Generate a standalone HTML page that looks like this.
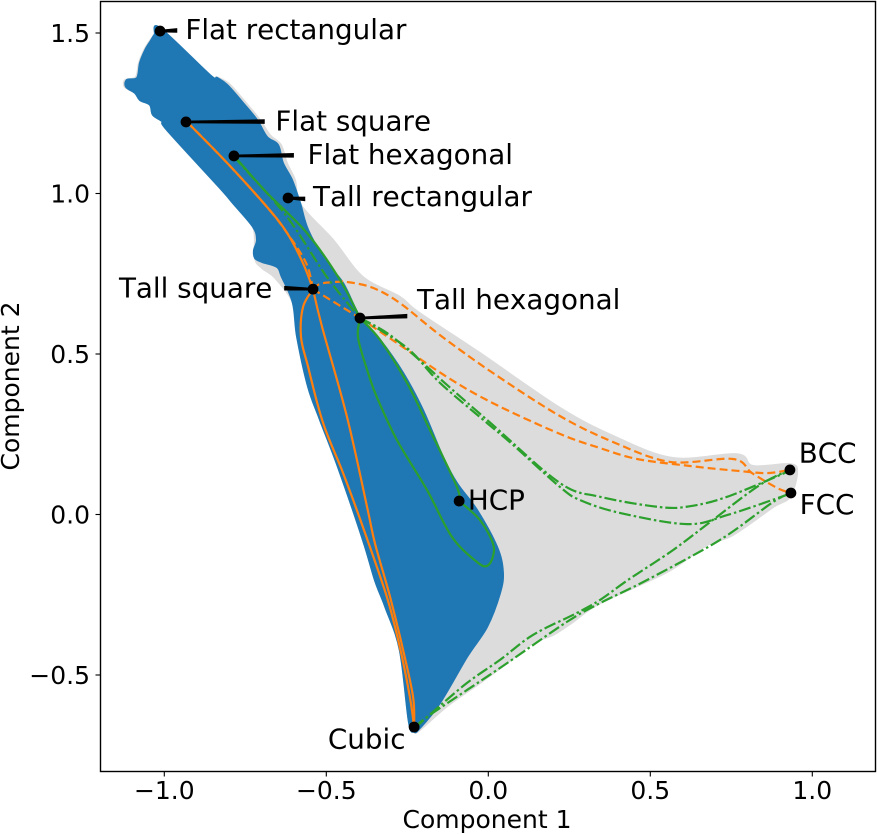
<!DOCTYPE html>
<html>
<head>
<meta charset="utf-8">
<style>
html,body{margin:0;padding:0;background:#fff;}
svg{display:block;font-family:"DejaVu Sans","Liberation Sans",sans-serif;font-kerning:none;}
</style>
</head>
<body>
<svg id="chart" width="877" height="834" viewBox="0 0 877 834" xmlns="http://www.w3.org/2000/svg"></svg>
<script>
var xTicks = [-1.0, -0.5, 0.0, 0.5, 1.0];
var yTicks = [-0.5, 0.0, 0.5, 1.0, 1.5];
var xTickLabels = ['\u22121.0', '\u22120.5', '0.0', '0.5', '1.0'];
var yTickLabels = ['\u22120.5', '0.0', '0.5', '1.0', '1.5'];
var xAxisTitle = 'Component 1';
var yAxisTitle = 'Component 2';

var allStructuresRegion = [[-1.03,1.495],[-1.013,1.515],[-0.859,1.369],[-0.837,1.362],[-0.8,1.341],[-0.748,1.282],[-0.705,1.229],[-0.674,1.182],[-0.64,1.151],[-0.622,1.095],[-0.597,1.042],[-0.578,0.964],[-0.479,0.855],[-0.387,0.74],[-0.273,0.678],[-0.217,0.631],[-0.026,0.503],[0.221,0.332],[0.385,0.245],[0.569,0.176],[0.768,0.188],[0.817,0.151],[0.931,0.157],[0.953,0.132],[0.931,0.055],[0.879,0.023],[0.755,-0.064],[0.675,-0.095],[0.552,-0.179],[0.345,-0.276],[0.261,-0.335],[0.2,-0.375],[0.138,-0.4],[0.058,-0.463],[-0.026,-0.525],[-0.127,-0.597],[-0.211,-0.671],[-0.229,-0.677],[-0.245,-0.646],[-0.273,-0.422],[-0.318,-0.288],[-0.35,-0.204],[-0.387,-0.079],[-0.464,0.148],[-0.519,0.294],[-0.556,0.397],[-0.59,0.553],[-0.603,0.659],[-0.658,0.737],[-0.698,0.768],[-0.72,0.799],[-0.726,0.896],[-0.788,0.97],[-0.828,1.017],[-0.992,1.198],[-1.004,1.223],[-1.035,1.245],[-1.044,1.276],[-1.075,1.291],[-1.09,1.313],[-1.122,1.332],[-1.12,1.354],[-1.088,1.362],[-1.078,1.407],[-1.062,1.447],[-1.045,1.475]];

var stableStructuresRegion = [[-1.013,1.515],[-0.859,1.369],[-0.837,1.36],[-0.806,1.338],[-0.757,1.282],[-0.714,1.229],[-0.683,1.176],[-0.649,1.151],[-0.634,1.095],[-0.606,1.042],[-0.581,0.97],[-0.556,0.886],[-0.498,0.783],[-0.448,0.721],[-0.396,0.615],[-0.334,0.544],[-0.263,0.441],[-0.202,0.326],[-0.14,0.179],[-0.097,0.098],[-0.035,0.014],[0.027,-0.101],[0.045,-0.179],[0.036,-0.245],[-0.004,-0.35],[-0.066,-0.444],[-0.149,-0.587],[-0.211,-0.665],[-0.229,-0.677],[-0.245,-0.646],[-0.273,-0.422],[-0.318,-0.288],[-0.35,-0.204],[-0.387,-0.079],[-0.464,0.148],[-0.519,0.294],[-0.556,0.397],[-0.59,0.553],[-0.603,0.659],[-0.637,0.74],[-0.652,0.771],[-0.698,0.787],[-0.72,0.799],[-0.723,0.824],[-0.714,0.855],[-0.726,0.896],[-0.788,0.97],[-0.828,1.017],[-0.992,1.198],[-1.004,1.223],[-1.035,1.245],[-1.044,1.276],[-1.075,1.291],[-1.09,1.313],[-1.118,1.332],[-1.115,1.354],[-1.084,1.36],[-1.075,1.407],[-1.059,1.447],[-1.042,1.475],[-1.03,1.495]];

var flatSquareToTallSquare = [[-0.93,1.223],[-0.806,1.095],[-0.683,0.958],[-0.621,0.877],[-0.572,0.783],[-0.541,0.702]];
var flatSquareToTallSquareJagged = [[-0.93,1.223],[-0.806,1.095],[-0.683,0.958],[-0.621,0.877],[-0.562,0.783],[-0.541,0.702]];
var tallSquareToCubicA = [[-0.541,0.702],[-0.513,0.584],[-0.436,0.304],[-0.374,0.023],[-0.35,-0.089],[-0.303,-0.257],[-0.263,-0.422],[-0.232,-0.569],[-0.229,-0.662]];
var tallSquareToCubicB = [[-0.541,0.702],[-0.572,0.646],[-0.578,0.553],[-0.556,0.459],[-0.51,0.285],[-0.448,0.129],[-0.387,-0.039],[-0.313,-0.257],[-0.273,-0.413],[-0.242,-0.569],[-0.229,-0.662]];
var tallSquareToTallHex = [[-0.541,0.702],[-0.396,0.612]];
var tallHexToBcc = [[-0.396,0.612],[-0.273,0.528],[-0.127,0.428],[0.014,0.347],[0.221,0.251],[0.345,0.207],[0.459,0.173],[0.623,0.151],[0.768,0.136],[0.86,0.129],[0.931,0.139]];
var tallSquareToFcc = [[-0.541,0.702],[-0.52,0.718],[-0.479,0.724],[-0.433,0.724],[-0.356,0.706],[-0.273,0.659],[-0.149,0.559],[0.014,0.441],[0.221,0.307],[0.385,0.226],[0.561,0.164],[0.755,0.173],[0.814,0.129],[0.891,0.083],[0.934,0.067]];

var flatHexToTallHex = [[-0.785,1.117],[-0.683,1.002],[-0.56,0.877],[-0.458,0.731],[-0.396,0.612]];
var flatHexToTallHexDashed = [[-0.785,1.117],[-0.757,1.083],[-0.621,0.927],[-0.498,0.74],[-0.396,0.612]];
var tallHexToHcpA = [[-0.396,0.612],[-0.334,0.544],[-0.251,0.41],[-0.18,0.263],[-0.097,0.086],[-0.09,0.042]];
var hcpToTallHexB = [[-0.09,0.042],[-0.026,-0.017],[0.014,-0.089],[0.014,-0.132],[-0.004,-0.16],[-0.035,-0.148],[-0.112,-0.07],[-0.189,0.076],[-0.282,0.232],[-0.344,0.366],[-0.371,0.441],[-0.402,0.55],[-0.396,0.612]];
var tallHexToBccGreen = [[-0.396,0.612],[-0.303,0.559],[-0.189,0.46],[-0.127,0.403],[0.014,0.279],[0.221,0.098],[0.345,0.055],[0.53,0.023],[0.623,0.026],[0.737,0.055],[0.921,0.132],[0.931,0.139]];
var tallHexToFccGreen = [[-0.396,0.612],[-0.251,0.519],[-0.149,0.41],[-0.004,0.285],[0.076,0.217],[0.221,0.086],[0.283,0.045],[0.406,0.005],[0.613,-0.03],[0.737,-0.002],[0.921,0.061],[0.934,0.067]];
var cubicToBccGreen = [[-0.229,-0.662],[-0.217,-0.656],[-0.171,-0.615],[-0.066,-0.525],[0.036,-0.453],[0.138,-0.375],[0.273,-0.307],[0.345,-0.266],[0.431,-0.204],[0.57,-0.111],[0.693,-0.017],[0.838,0.092],[0.931,0.139]];
var cubicToFccGreen = [[-0.229,-0.662],[-0.171,-0.618],[-0.066,-0.547],[0.058,-0.463],[0.242,-0.335],[0.345,-0.276],[0.49,-0.204],[0.715,-0.079],[0.879,0.039],[0.934,0.067]];

var landmarkNames = ['Flat rectangular','Flat square','Flat hexagonal','Tall rectangular','Tall square','Tall hexagonal','HCP','Cubic','BCC','FCC'];
var landmarkX = [-1.013,-0.933,-0.785,-0.618,-0.541,-0.396,-0.09,-0.229,0.931,0.934];
var landmarkY = [1.506,1.223,1.117,0.986,0.702,0.612,0.042,-0.662,0.139,0.067];
var labelX = [-0.935,-0.657,-0.558,-0.541,-1.14,-0.22,-0.063,-0.495,0.958,0.961];
var labelY = [1.482,1.196,1.092,0.961,0.676,0.64,0.016,-0.729,0.162,0.002];
var leaderX = [-0.96,-0.69,-0.6,-0.565,-0.63,-0.25,null,null,null,null];
var leaderY = [1.508,1.224,1.119,0.983,0.705,0.618,null,null,null,null];

var svgNS = 'http://www.w3.org/2000/svg';
var svg = document.getElementById('chart');
var plotLeft = 100.5, plotTop = 1.5, plotRight = 875.5, plotBottom = 771.5;
function xScale(v){ return 488.3 + 324 * v; }
function yScale(v){ return 514.5 - 321 * v; }
function make(tag, attrs){
  var el = document.createElementNS(svgNS, tag);
  for (var k in attrs) el.setAttribute(k, attrs[k]);
  svg.appendChild(el);
  return el;
}
function segment(a, b, c, e){
  var c1x = b[0] + (c[0] - a[0]) / 6, c1y = b[1] + (c[1] - a[1]) / 6;
  var c2x = c[0] - (e[0] - b[0]) / 6, c2y = c[1] - (e[1] - b[1]) / 6;
  return 'C' + c1x.toFixed(1) + ' ' + c1y.toFixed(1) + ' ' + c2x.toFixed(1) + ' ' + c2y.toFixed(1) + ' ' + c[0].toFixed(1) + ' ' + c[1].toFixed(1);
}
function closedCurvePath(pts){
  var p = pts.map(function(q){ return [xScale(q[0]), yScale(q[1])]; });
  var n = p.length;
  var d = 'M' + p[0][0].toFixed(1) + ' ' + p[0][1].toFixed(1);
  for (var i = 0; i < n; i++) {
    d += segment(p[(i - 1 + n) % n], p[i], p[(i + 1) % n], p[(i + 2) % n]);
  }
  return d + 'Z';
}
function curvePath(pts){
  var p = pts.map(function(q){ return [xScale(q[0]), yScale(q[1])]; });
  var d = 'M' + p[0][0].toFixed(1) + ' ' + p[0][1].toFixed(1);
  for (var i = 0; i < p.length - 1; i++) {
    d += segment(p[Math.max(i - 1, 0)], p[i], p[i + 1], p[Math.min(i + 2, p.length - 1)]);
  }
  return d;
}

var gray = make('path', {d: closedCurvePath(allStructuresRegion), fill: '#dcdcdc', stroke: '#dcdcdc', 'stroke-width': 2, 'stroke-linejoin': 'round'});



var blue = make('path', {d: closedCurvePath(stableStructuresRegion), fill: '#1f77b4', stroke: '#1f77b4', 'stroke-width': 2, 'stroke-linejoin': 'round'});



var ORANGE = '#ff7f0e', GREEN = '#2ca02c';
var SOLID = 'none', DASHED = '8 4', DASHDOT = '12 3 2.5 3';
var seriesList = [
  ['orange-path-flat-square-tall-square', flatSquareToTallSquare, ORANGE, SOLID],
  ['orange-path-flat-square-tall-square-jagged', flatSquareToTallSquareJagged, ORANGE, DASHED],
  ['orange-path-tall-square-cubic-a', tallSquareToCubicA, ORANGE, SOLID],
  ['orange-path-tall-square-cubic-b', tallSquareToCubicB, ORANGE, SOLID],
  ['orange-path-tall-square-tall-hex', tallSquareToTallHex, ORANGE, DASHED],
  ['orange-path-tall-hex-bcc', tallHexToBcc, ORANGE, DASHED],
  ['orange-path-tall-square-fcc', tallSquareToFcc, ORANGE, DASHED],
  ['green-path-flat-hex-tall-hex', flatHexToTallHex, GREEN, SOLID],
  ['green-path-flat-hex-tall-hex-dashdot', flatHexToTallHexDashed, GREEN, DASHDOT],
  ['green-path-tall-hex-hcp-a', tallHexToHcpA, GREEN, SOLID],
  ['green-path-hcp-tall-hex-b', hcpToTallHexB, GREEN, SOLID],
  ['green-path-tall-hex-bcc', tallHexToBccGreen, GREEN, DASHDOT],
  ['green-path-tall-hex-fcc', tallHexToFccGreen, GREEN, DASHDOT],
  ['green-path-cubic-bcc', cubicToBccGreen, GREEN, DASHDOT],
  ['green-path-cubic-fcc', cubicToFccGreen, GREEN, DASHDOT]
];
seriesList.forEach(function(s){
  var line = make('path', {d: curvePath(s[1]), fill: 'none', stroke: s[2], 'stroke-width': 2.2, 'stroke-dasharray': s[3]});
  
  
});

landmarkNames.forEach(function(name, i){
  var slug = name.toLowerCase().replace(/ /g, '-');
  if (leaderX[i] !== null) {
    var x0 = xScale(landmarkX[i]), y0 = yScale(landmarkY[i]), x1 = xScale(leaderX[i]), y1 = yScale(leaderY[i]);
    var leader = make('polygon', {points: [x0, y0 - 1.3, x1, y1 - 2.3, x1, y1 + 2.3, x0, y0 + 1.3].join(' '), fill: '#000'});
    
    
  }
  var dot = make('circle', {cx: xScale(landmarkX[i]), cy: yScale(landmarkY[i]), r: 5.4, fill: '#000'});
  
  
  var label = make('text', {x: xScale(labelX[i]), y: yScale(labelY[i]), 'font-size': 27.78, fill: '#000'});
  label.textContent = name;
  
  
});

var frame = make('rect', {x: plotLeft, y: plotTop, width: plotRight - plotLeft, height: plotBottom - plotTop, fill: 'none', stroke: '#000', 'stroke-width': 1.4});



xTicks.forEach(function(v, i){
  var tx = xScale(v);
  var tick = make('line', {x1: tx, x2: tx, y1: plotBottom, y2: plotBottom + 5, stroke: '#000', 'stroke-width': 1.1});
  
  
  var lab = make('text', {x: tx, y: 799, 'font-size': 25, 'text-anchor': 'middle', fill: '#000'});
  lab.textContent = xTickLabels[i];
  
  
});
yTicks.forEach(function(v, i){
  var ty = yScale(v);
  var tick = make('line', {x1: plotLeft - 5, x2: plotLeft, y1: ty, y2: ty, stroke: '#000', 'stroke-width': 1.1});
  
  
  var lab = make('text', {x: 90, y: ty + 9, 'font-size': 25, 'text-anchor': 'end', fill: '#000'});
  lab.textContent = yTickLabels[i];
  
  
});

var xTitle = make('text', {x: 487, y: 828, 'font-size': 25, 'text-anchor': 'middle', fill: '#000'});
xTitle.textContent = xAxisTitle;



var yTitle = make('text', {x: 0, y: 0, transform: 'translate(19 386) rotate(-90)', 'font-size': 25, 'text-anchor': 'middle', fill: '#000'});
yTitle.textContent = yAxisTitle;


</script>
</body>
</html>
